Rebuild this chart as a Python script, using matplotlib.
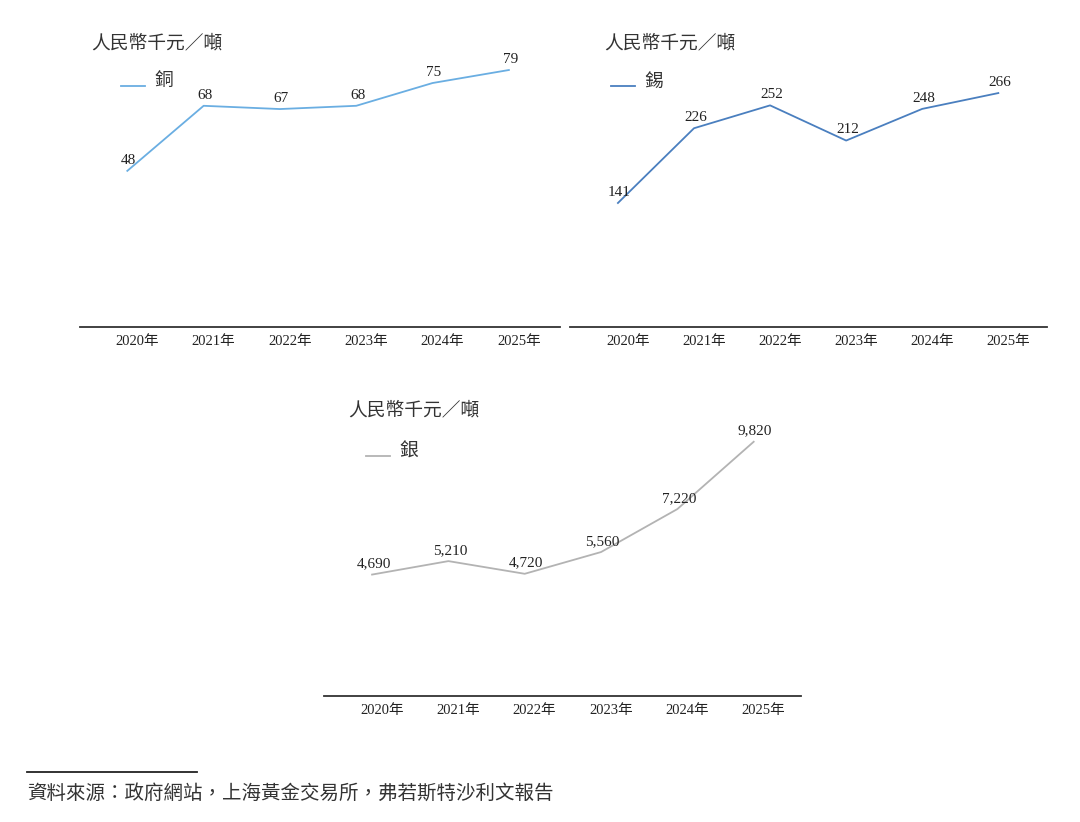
import matplotlib
matplotlib.use("Agg")
import matplotlib.pyplot as plt
from matplotlib.lines import Line2D

plt.rcParams['font.family'] = ['Liberation Serif', 'Noto Sans CJK TC', 'DejaVu Sans']

# Data
years = ['2020年', '2021年', '2022年', '2023年', '2024年', '2025年']
copper = [48, 68, 67, 68, 75, 79]
tin = [141, 226, 252, 212, 248, 266]
silver = [4690, 5210, 4720, 5560, 7220, 9820]
copper_labels = ['48', '68', '67', '68', '75', '79']
tin_labels = ['141', '226', '252', '212', '248', '266']
silver_labels = ['4,690', '5,210', '4,720', '5,560', '7,220', '9,820']
unit = '人民幣千元／噸'
source = '資料來源：政府網站，上海黃金交易所，弗若斯特沙利文報告'

W, H = 1080, 822
fig = plt.figure(figsize=(W / 100, H / 100), dpi=100)
fig.patch.set_facecolor('white')


def fx(x):
    return x / W


def fy(y):
    return 1 - y / H


def panel(left, right, base, top, values, labels, name, color, ymax,
          xlim, unit_xy, leg_xy):
    ax = fig.add_axes([fx(left), fy(base), fx(right - left), (base - top) / H])
    x = list(range(len(values)))
    ax.plot(x, values, color=color, lw=1.3)
    for xi, v, lab in zip(x, values, labels):
        ax.annotate(lab, (xi, v), xytext=(1, 3), textcoords='offset points',
                    ha='center', va='bottom', fontsize=11, color='#222222')
    ax.set_xlim(*xlim)
    ax.set_ylim(0, ymax)
    ax.set_xticks([i + 0.13 for i in x])
    ax.set_xticklabels(years, fontsize=10.5, color='#222222')
    ax.tick_params(axis='x', length=0, pad=6)
    ax.set_yticks([])
    for s in ['top', 'left', 'right']:
        ax.spines[s].set_visible(False)
    ax.spines['bottom'].set_color('#333333')
    ax.spines['bottom'].set_linewidth(1.3)
    ax.patch.set_alpha(0)
    fig.text(fx(unit_xy[0]), fy(unit_xy[1]), unit, fontsize=13.5,
             color='#333333', va='center', ha='left')
    lx, ly = leg_xy
    fig.add_artist(Line2D([fx(lx), fx(lx + 24)], [fy(ly), fy(ly)],
                          color=color, lw=1.3))
    fig.text(fx(lx + 33), fy(ly - 4), name, fontsize=13.5, color='#333333',
             va='center', ha='left')
    return ax


panel(80, 560, 327, 57, copper, copper_labels, '銅', '#6aaee2', 83,
      (-0.62, 5.67), (91, 44), (121, 86))
panel(570, 1047, 327, 57, tin, tin_labels, '錫', '#4a7fbf', 307,
      (-0.63, 5.64), (604, 44), (611, 86))
panel(324, 801, 696, 420, silver, silver_labels, '銀', '#b3b3b3', 10660,
      (-0.63, 5.62), (348, 411), (366, 456))

fig.add_artist(Line2D([fx(27), fx(197)], [fy(772), fy(772)],
                      color='#222222', lw=1.3))
fig.text(fx(27), fy(793), source, fontsize=14, color='#333333',
         va='center', ha='left')

fig.savefig('out.png', dpi=100, facecolor='white')
